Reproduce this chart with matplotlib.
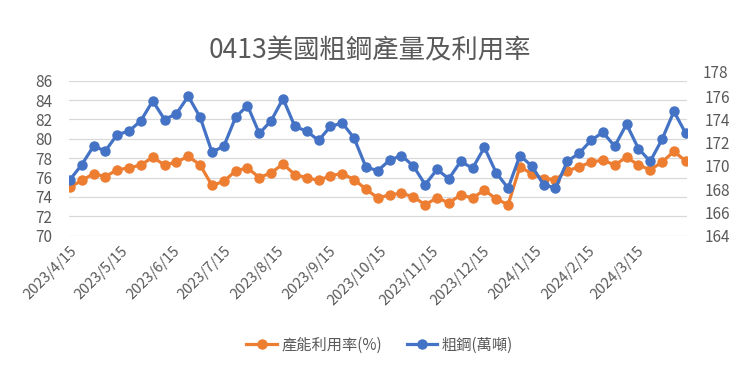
import numpy as np
import pandas as pd
import matplotlib
matplotlib.use('Agg')
import matplotlib.pyplot as plt
import matplotlib.transforms as mtransforms

plt.rcParams['font.family'] = ['Noto Sans CJK TC', 'DejaVu Sans']

# weekly data, week ending on Saturday
dates = pd.date_range('2023-04-15', periods=53, freq='7D')

utilization = [75.0, 75.7, 76.4, 76.1, 76.8, 77.0, 77.3, 78.1, 77.3, 77.6,
               78.2, 77.3, 75.2, 75.6, 76.7, 77.0, 76.0, 76.5, 77.4, 76.3,
               76.0, 75.7, 76.2, 76.4, 75.8, 74.8, 73.9, 74.2, 74.4, 74.0,
               73.2, 73.9, 73.4, 74.2, 73.9, 74.7, 73.8, 73.2, 77.1, 76.4,
               75.9, 75.8, 76.7, 77.1, 77.6, 77.8, 77.3, 78.1, 77.3, 76.8,
               77.6, 78.7, 77.7]

crude_steel = [168.8, 170.1, 171.7, 171.3, 172.7, 173.0, 173.9, 175.6, 174.0, 174.5,
               176.0, 174.2, 171.2, 171.7, 174.2, 175.2, 172.8, 173.9, 175.8, 173.4,
               173.0, 172.2, 173.4, 173.7, 172.4, 169.9, 169.6, 170.5, 170.9, 170.0,
               168.4, 169.7, 168.9, 170.4, 169.8, 171.6, 169.4, 168.1, 170.9, 170.0,
               168.4, 168.1, 170.4, 171.1, 172.2, 172.9, 171.7, 173.6, 171.5, 170.4,
               172.3, 174.7, 172.8]

tick_labels = ['2023/4/15', '2023/5/15', '2023/6/15', '2023/7/15', '2023/8/15',
               '2023/9/15', '2023/10/15', '2023/11/15', '2023/12/15', '2024/1/15',
               '2024/2/15', '2024/3/15']

left_ticks = list(range(70, 87, 2))
right_ticks = list(range(164, 177, 2))

orange = '#ED7D31'
blue = '#4472C4'
grey = '#595959'

fig = plt.figure(figsize=(7.4, 3.72), dpi=100)
ax = fig.add_axes([0.0932, 0.3664, 0.8358, 0.4166])
ax2 = ax.twinx()

ax.plot(dates, utilization, color=orange, lw=2.3, marker='o', ms=6.5,
        label='產能利用率(%)')
ax2.plot(dates, crude_steel, color=blue, lw=2.3, marker='o', ms=6.5,
         label='粗鋼(萬噸)')

ax.set_ylim(70, 86)
ax.set_yticks(left_ticks)
ax2.set_ylim(164, 164 + 155 / 11.62)
ax2.set_yticks(right_ticks)
ax.grid(axis='y', color='#D9D9D9', lw=0.9)
ax.set_axisbelow(True)

ax.set_xlim(dates[0] - pd.Timedelta(days=0.5), dates[-1] + pd.Timedelta(days=1))
ax.set_xticks(pd.to_datetime(tick_labels, format='%Y/%m/%d'))
ax.set_xticklabels(tick_labels, rotation=45, ha='right', rotation_mode='anchor')

for a in (ax, ax2):
    for s in a.spines.values():
        s.set_visible(False)
    a.tick_params(length=0, labelsize=11, labelcolor=grey)
ax.tick_params(axis='y', pad=12)
ax2.tick_params(axis='y', pad=12)
ax.tick_params(axis='x', pad=6, labelsize=10.5)

# Excel puts the top secondary label slightly above the plot area
tr = mtransforms.blended_transform_factory(ax2.transAxes, ax2.transData)
ax2.text(1.0, 178, '178', clip_on=False, fontsize=11, color=grey,
         va='center', ha='left',
         transform=tr + mtransforms.ScaledTranslation(15 / 100, 0, fig.dpi_scale_trans))

fig.suptitle('0413美國粗鋼產量及利用率', y=0.9, fontsize=19, color=grey)

h1, l1 = ax.get_legend_handles_labels()
h2, l2 = ax2.get_legend_handles_labels()
fig.legend(h1 + h2, l1 + l2, loc='center', bbox_to_anchor=(0.513, 0.073), ncol=2,
           frameon=False, fontsize=11, labelcolor=grey, handlelength=2.0,
           handletextpad=0.3, columnspacing=1.6)

fig.savefig('out.png', dpi=100)
